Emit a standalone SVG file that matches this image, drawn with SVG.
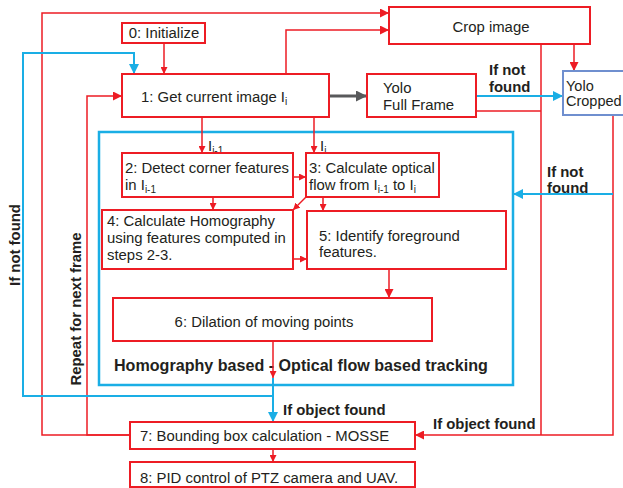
<svg xmlns="http://www.w3.org/2000/svg" width="623" height="488" viewBox="0 0 623 488">
<style>
text{font-family:"Liberation Sans",Arial,sans-serif;font-size:14.9px;fill:#231f20}
.b{font-weight:bold}
.box{fill:#fff;stroke:#ed1c24;stroke-width:2}
.r{fill:none;stroke:#ed1c24;stroke-width:1.5}
.bl{fill:none;stroke:#1aaee5;stroke-width:2}
.sub{font-size:10px}
</style>
<defs>
<marker id="rs" viewBox="0 0 10 10" refX="10" refY="5" markerUnits="userSpaceOnUse" markerWidth="7" markerHeight="7" orient="auto"><path d="M0,0L10,5L0,10z" fill="#ed1c24"/></marker>
<marker id="rl" viewBox="0 0 10 10" refX="10" refY="5" markerUnits="userSpaceOnUse" markerWidth="10" markerHeight="9" orient="auto"><path d="M0,0L10,5L0,10z" fill="#ed1c24"/></marker>
<marker id="bm" viewBox="0 0 10 10" refX="10" refY="5" markerUnits="userSpaceOnUse" markerWidth="11" markerHeight="10" orient="auto"><path d="M0,0L10,5L0,10z" fill="#1aaee5"/></marker>
<marker id="gm" viewBox="0 0 10 10" refX="10" refY="5" markerUnits="userSpaceOnUse" markerWidth="13" markerHeight="11" orient="auto"><path d="M0,0L10,5L0,10z" fill="#58595b"/></marker>
</defs>

<g id="container">
<rect x="99" y="132" width="414" height="253" fill="none" stroke="#1aaee5" stroke-width="2.5"/>
<text class="b" x="114" y="371" style="font-size:16.1px">Homography based - Optical flow based tracking</text>
</g>

<g id="connectors">
<path class="r" d="M130,435H42V13H389" marker-end="url(#rl)"/>
<path class="r" d="M130,435H87V96H122" marker-end="url(#rl)"/>
<path class="r" d="M286,74V30H389" marker-end="url(#rl)"/>
<path class="r" d="M164,43V74" marker-end="url(#rs)"/>
<path class="r" d="M574,44V71" marker-end="url(#rl)"/>
<path class="r" d="M541,44V435"/>
<path class="r" d="M476,111H541"/>
<path class="r" d="M613,115V435H415" marker-end="url(#rl)"/>
<path class="r" d="M202,117V153" marker-end="url(#rs)"/>
<path class="r" d="M314,117V153" marker-end="url(#rs)"/>
<path class="r" d="M293,177H306" marker-end="url(#rs)"/>
<path class="r" d="M213,197V210" marker-end="url(#rs)"/>
<path class="r" d="M306,197L293,210" marker-end="url(#rs)"/>
<path class="r" d="M323,197V211" marker-end="url(#rs)"/>
<path class="r" d="M293,259H307" marker-end="url(#rs)"/>
<path class="r" d="M389,269V298" marker-end="url(#rl)"/>
<path class="r" d="M273,341V378" marker-end="url(#rs)"/>
<path class="r" d="M273,449V462" marker-end="url(#rs)"/>
<path class="bl" d="M273,378V422" marker-end="url(#bm)"/>
<path class="bl" d="M273,396H23V53H134V74" marker-end="url(#bm)"/>
<path class="bl" d="M476,96H563" marker-end="url(#bm)"/>
<path class="bl" d="M613,194H513" marker-end="url(#bm)"/>
<path d="M329,96H367" fill="none" stroke="#58595b" stroke-width="3" marker-end="url(#gm)"/>
<text class="b" x="489" y="75">If not</text>
<text class="b" x="489" y="92">found</text>
<text class="b" x="547" y="177">If not</text>
<text class="b" x="547" y="193">found</text>
<text class="b" x="283" y="415">If object found</text>
<text class="b" x="433" y="429">If object found</text>
<text class="b" transform="translate(20,245) rotate(-90)" text-anchor="middle">If not found</text>
<text class="b" transform="translate(81,309) rotate(-90)" text-anchor="middle">Repeat for next frame</text>
<text x="208" y="151">I<tspan class="sub" dy="3">i-1</tspan></text>
<text x="320" y="151">I<tspan class="sub" dy="3">i</tspan></text>
</g>

<g id="n0"><rect class="box" x="122" y="23" width="83" height="20"/><text x="164" y="38" text-anchor="middle">0: Initialize</text></g>
<g id="n1"><rect class="box" x="122" y="74" width="207" height="43"/><text x="141" y="102">1: Get current image I<tspan class="sub" dy="3">i</tspan></text></g>
<g id="crop"><rect class="box" x="389" y="7" width="201" height="37"/><text x="491" y="32" text-anchor="middle">Crop image</text></g>
<g id="yoloff"><rect class="box" x="367" y="74" width="109" height="43"/><text x="383" y="93">Yolo</text><text x="383" y="110">Full Frame</text></g>
<g id="yolocrop"><rect x="563" y="71" width="80" height="44" fill="#fff" stroke="#6f8fcf" stroke-width="2"/><text x="566" y="91" style="font-size:14.5px">Yolo</text><text x="566" y="106" style="font-size:14.5px">Cropped</text></g>
<g id="n2"><rect class="box" x="122" y="153" width="171" height="44"/><text x="125" y="173">2: Detect corner features</text><text x="125" y="190">in I<tspan class="sub" dy="3">i-1</tspan></text></g>
<g id="n3"><rect class="box" x="306" y="153" width="133" height="44"/><text x="309" y="173">3: Calculate optical</text><text x="309" y="190">flow from I<tspan class="sub" dy="3">i-1</tspan><tspan dy="-3"> to I</tspan><tspan class="sub" dy="3">i</tspan></text></g>
<g id="n4"><rect class="box" x="102" y="210" width="191" height="59"/><text x="107" y="226">4: Calculate Homography</text><text x="107" y="243">using features computed in</text><text x="107" y="260">steps 2-3.</text></g>
<g id="n5"><rect class="box" x="307" y="211" width="199" height="58"/><text x="319" y="241">5: Identify foreground</text><text x="319" y="257">features.</text></g>
<g id="n6"><rect class="box" x="113" y="298" width="319" height="43"/><text x="264" y="327" text-anchor="middle">6: Dilation of moving points</text></g>
<g id="n7"><rect class="box" x="130" y="422" width="285" height="27"/><text x="140" y="441">7: Bounding box calculation - MOSSE</text></g>
<g id="n8"><rect class="box" x="130" y="462" width="285" height="25"/><text x="140" y="483">8: PID control of PTZ camera and UAV.</text></g>
</svg>
